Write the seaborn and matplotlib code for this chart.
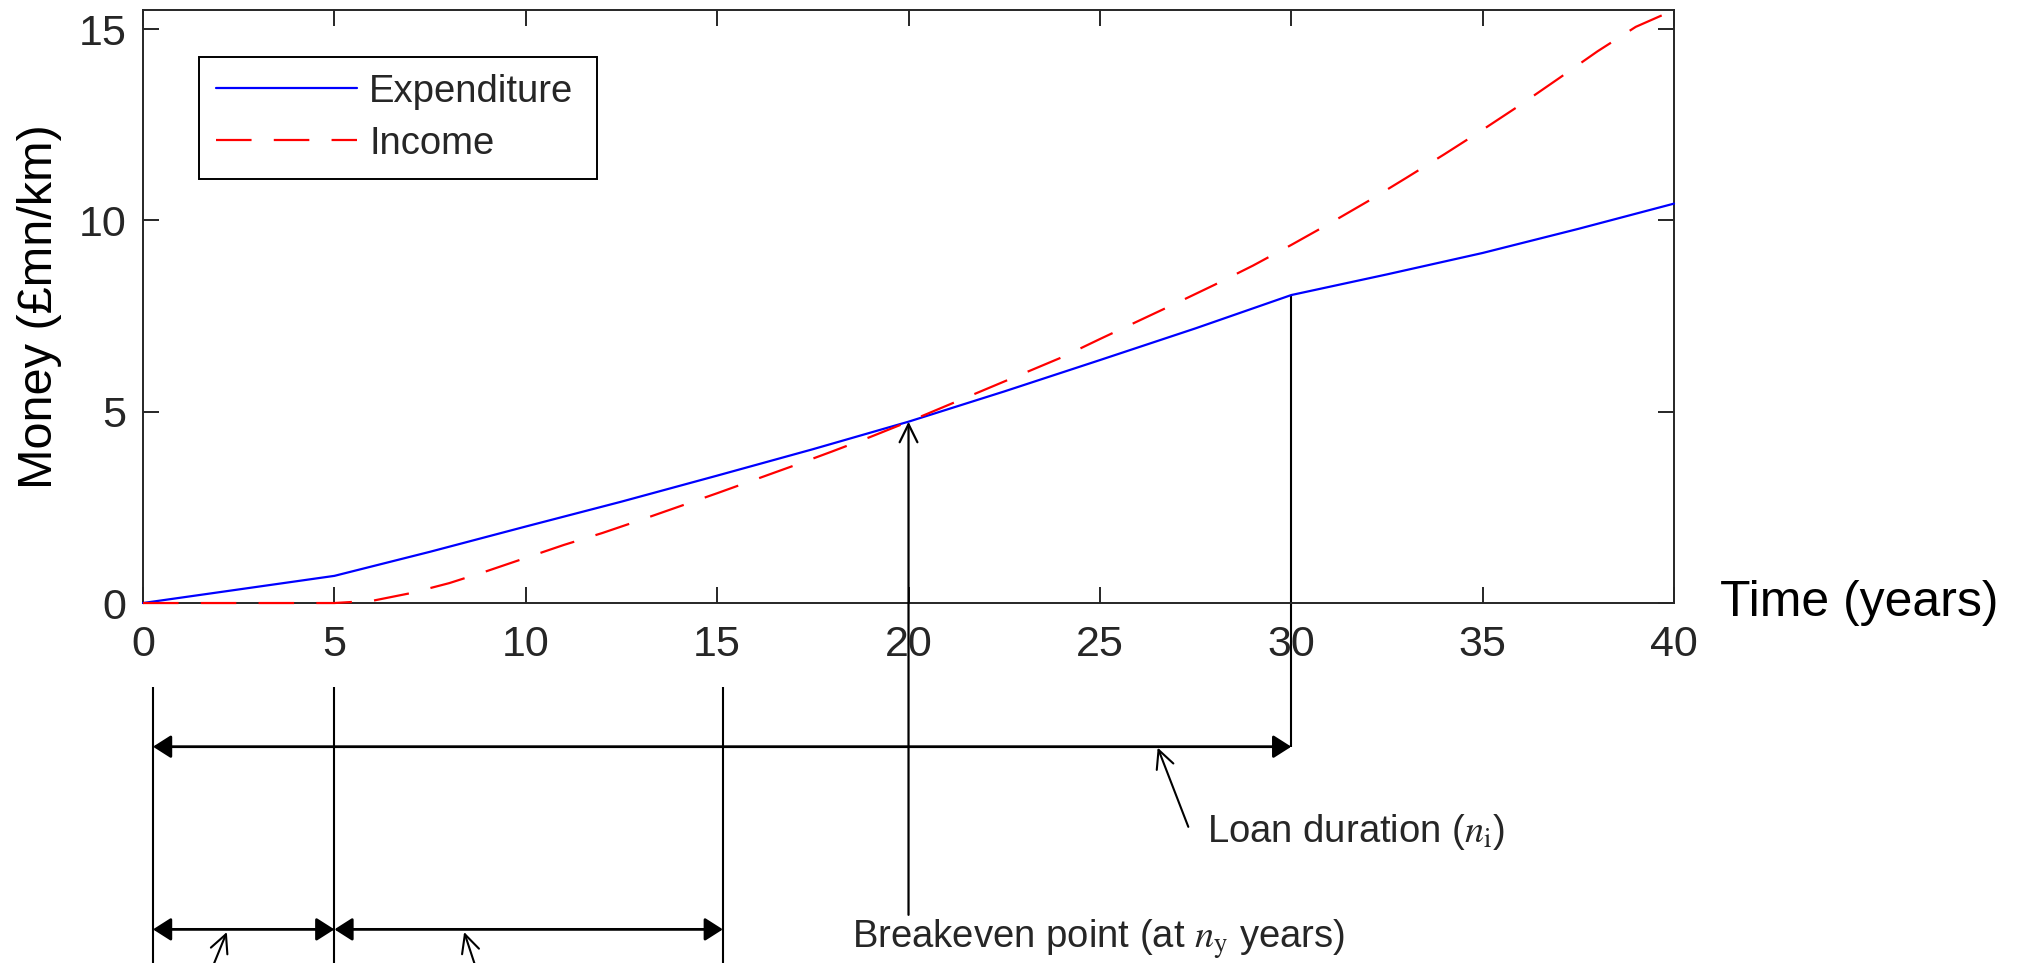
import numpy as np
import pandas as pd
import seaborn as sns
import matplotlib.pyplot as plt

# values (years, £mn/km)
exp_years = [0, 5, 7.5, 10, 12.5, 15, 17.5, 20, 22.5, 25, 27.5, 30, 32.5, 35, 37.5, 40]
expenditure = [0, 0.71, 1.34, 2.0, 2.65, 3.33, 4.02, 4.74, 5.53, 6.35, 7.18, 8.05, 8.59, 9.15, 9.78, 10.44]

inc_years = [0, 5, 6, 7, 8, 9, 10, 11, 12, 13, 14, 15, 16, 17, 18, 19, 20,
             21, 22, 23, 24, 25, 26, 27, 28, 29, 30, 31, 32, 33, 34, 35, 36, 37, 38, 39, 40]
income = [0, 0, 0.06, 0.26, 0.52, 0.84, 1.18, 1.52, 1.83, 2.17, 2.52, 2.87, 3.23, 3.59, 3.96, 4.34, 4.74,
          5.16, 5.58, 6.00, 6.42, 6.90, 7.37, 7.84, 8.32, 8.82, 9.36, 9.92, 10.50, 11.11, 11.73, 12.37,
          13.03, 13.72, 14.42, 15.06, 15.5]

# annotation positions (years)
phase_edges = [0.26, 5, 15.15]
breakeven_year = 20
loan_end = 30

sns.set_theme(style="white")
plt.rcParams['font.family'] = ['Liberation Sans', 'DejaVu Sans']
plt.rcParams['mathtext.fontset'] = 'stix'

fig = plt.figure(figsize=(20.43, 9.63), dpi=100)
ax = fig.add_axes([0.0700, 0.3738, 0.7494, 0.6158])

df_exp = pd.DataFrame({"year": exp_years, "money": expenditure})
df_inc = pd.DataFrame({"year": inc_years, "money": income})
sns.lineplot(data=df_exp, x="year", y="money", color="blue", lw=1.6, label="Expenditure",
             ax=ax, zorder=3, clip_on=False)
sns.lineplot(data=df_inc, x="year", y="money", color="red", lw=1.6, label="Income",
             ax=ax, zorder=3, clip_on=False)
ax.lines[-1].set_dashes((16, 10))

ax.set_xlim(0, 40)
ax.set_ylim(0, 15.5)
ax.set_xticks(np.arange(0, 41, 5))
ax.set_yticks([0, 5, 10, 15])
dark = "#262626"
for s in ax.spines.values():
    s.set_color(dark)
    s.set_linewidth(1.4)
ax.tick_params(direction="in", top=True, right=True, bottom=True, left=True,
               length=11.5, width=1.4, color=dark, labelcolor=dark, labelsize=31)
ax.tick_params(axis="x", pad=16)
ax.tick_params(axis="y", pad=12)

ax.set_xlabel("Time (years)", fontsize=36, ha="left", va="center", color="black")
ax.xaxis.set_label_coords(1.030, 0.0)
ax.set_ylabel("Money (£mn/km)", fontsize=35, color="black")
ax.yaxis.set_label_coords(-0.0529, 0.5)

handles, labels = ax.get_legend_handles_labels()
leg = ax.legend(handles, labels, loc="upper left", bbox_to_anchor=(0.0974, 0.8146, 0.1948, 0.1262),
                bbox_transform=fig.transFigure, mode="expand", borderaxespad=0, fontsize=27.5,
                handlelength=3.7, handletextpad=0.32, borderpad=0.44, labelspacing=0.42,
                fancybox=False, framealpha=1)
leg.get_frame().set_edgecolor("black")
leg.get_frame().set_linewidth(1.4)

# annotation sketch below the axes
exp_at = lambda t: float(np.interp(t, exp_years, expenditure))


def arrow(x0, y0, x1, y1, style, lw=1.6):
    ax.annotate("", xy=(x1, y1), xytext=(x0, y0), annotation_clip=False,
                arrowprops=dict(arrowstyle=style, lw=lw, color="black",
                                shrinkA=0, shrinkB=0, mutation_scale=20))


vkw = dict(color="black", lw=1.5, clip_on=False, solid_capstyle="butt")
for t in phase_edges:
    ax.plot([t, t], [-2.19, -10], **vkw)
ax.plot([loan_end, loan_end], [exp_at(loan_end), -3.755], **vkw)
arrow(breakeven_year, -8.15, breakeven_year, exp_at(breakeven_year), "->,head_length=0.65,head_width=0.32")

arrow(phase_edges[0], -3.755, loan_end, -3.755, "<|-|>,head_length=0.55,head_width=0.35", lw=2)
arrow(phase_edges[0], -8.53, phase_edges[1], -8.53, "<|-|>,head_length=0.55,head_width=0.35", lw=2)
arrow(phase_edges[1], -8.53, phase_edges[2], -8.53, "<|-|>,head_length=0.55,head_width=0.35", lw=2)

arrow(27.31, -5.85, 26.51, -3.78, "->,head_length=0.65,head_width=0.32", lw=1.5)
arrow(1.62, -10, 2.19, -8.6, "->,head_length=0.65,head_width=0.32", lw=1.5)
arrow(8.85, -10, 8.39, -8.6, "->,head_length=0.65,head_width=0.32", lw=1.5)

ax.text(27.81, -6.24, r"Loan duration ($n_\mathrm{i}$)", fontsize=27.5, ha="left", va="baseline")
ax.text(18.52, -9.02, r"Breakeven point (at $n_\mathrm{y}$ years)", fontsize=27.5, ha="left", va="baseline")

fig.savefig("out.png", dpi=100)
